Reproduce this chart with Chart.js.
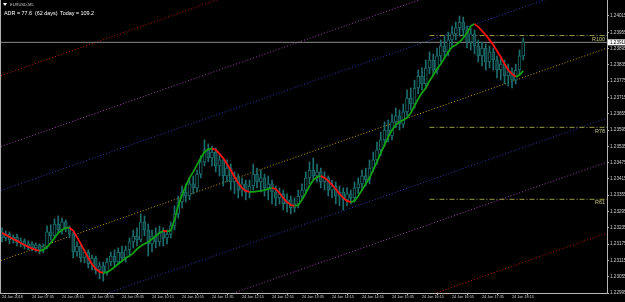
<!DOCTYPE html>
<html>
<head>
<meta charset="utf-8">
<script src="https://cdn.jsdelivr.net/npm/chart.js@4.4.1/dist/chart.umd.min.js"></script>
<style>
html, body { margin: 0; padding: 0; background: #000; overflow: hidden; }
canvas { display: block; }
</style>
</head>
<body>
<canvas id="chart" width="625" height="302"></canvas>
<script>
// EURUSD M5 candles (bar index 0 = first bar on screen)
const opens = [1.23220,1.23198,1.23212,1.23190,1.23201,1.23179,1.23187,1.23168,1.23176,1.23161,
  1.23172,1.23154,1.23165,1.23220,1.23205,1.23249,1.23227,1.23257,1.23235,1.23212,
  1.23146,1.23168,1.23124,1.23146,1.23102,1.23124,1.23080,1.23095,1.23073,1.23109,
  1.23131,1.23109,1.23146,1.23124,1.23154,1.23183,1.23205,1.23190,1.23257,1.23227,
  1.23176,1.23205,1.23183,1.23220,1.23198,1.23212,1.23242,1.23286,1.23330,1.23367,
  1.23352,1.23397,1.23382,1.23433,1.23478,1.23522,1.23492,1.23514,1.23463,1.23485,
  1.23426,1.23455,1.23404,1.23419,1.23374,1.23397,1.23367,1.23389,1.23433,1.23404,
  1.23419,1.23382,1.23397,1.23367,1.23345,1.23360,1.23323,1.23338,1.23308,1.23323,
  1.23352,1.23374,1.23419,1.23448,1.23426,1.23441,1.23404,1.23419,1.23374,1.23389,
  1.23352,1.23367,1.23338,1.23360,1.23345,1.23382,1.23397,1.23426,1.23411,1.23455,
  1.23485,1.23522,1.23559,1.23595,1.23573,1.23625,1.23647,1.23617,1.23662,1.23713,
  1.23691,1.23750,1.23794,1.23765,1.23824,1.23853,1.23816,1.23868,1.23905,1.23883,
  1.23927,1.23949,1.23971,1.23993,1.23964,1.23919,1.23949,1.23905,1.23868,1.23897,
  1.23846,1.23883,1.23853,1.23816,1.23838,1.23794,1.23809,1.23779,1.23816,1.23868];
const highs = [1.23235,1.23224,1.23220,1.23209,1.23212,1.23198,1.23194,1.23187,1.23183,1.23179,
  1.23176,1.23176,1.23242,1.23246,1.23268,1.23279,1.23271,1.23264,1.23242,1.23220,
  1.23183,1.23176,1.23157,1.23154,1.23135,1.23131,1.23109,1.23109,1.23124,1.23146,
  1.23154,1.23161,1.23168,1.23168,1.23198,1.23227,1.23235,1.23286,1.23279,1.23249,
  1.23227,1.23235,1.23242,1.23235,1.23227,1.23257,1.23316,1.23352,1.23389,1.23397,
  1.23419,1.23426,1.23448,1.23500,1.23559,1.23544,1.23536,1.23529,1.23507,1.23492,
  1.23485,1.23470,1.23441,1.23433,1.23419,1.23411,1.23411,1.23470,1.23455,1.23448,
  1.23433,1.23426,1.23411,1.23389,1.23382,1.23374,1.23360,1.23352,1.23345,1.23374,
  1.23397,1.23441,1.23478,1.23492,1.23470,1.23455,1.23441,1.23426,1.23411,1.23404,
  1.23389,1.23382,1.23382,1.23374,1.23404,1.23419,1.23448,1.23455,1.23485,1.23514,
  1.23551,1.23588,1.23625,1.23632,1.23654,1.23676,1.23669,1.23691,1.23743,1.23750,
  1.23779,1.23816,1.23824,1.23853,1.23883,1.23875,1.23897,1.23927,1.23941,1.23956,
  1.23978,1.23993,1.24015,1.24011,1.23978,1.23971,1.23964,1.23927,1.23919,1.23912,
  1.23905,1.23897,1.23868,1.23860,1.23853,1.23838,1.23824,1.23838,1.23890,1.23934];
const lows = [1.23183,1.23187,1.23176,1.23179,1.23168,1.23165,1.23157,1.23154,1.23150,1.23146,
  1.23139,1.23143,1.23157,1.23190,1.23198,1.23216,1.23212,1.23220,1.23198,1.23124,
  1.23131,1.23109,1.23106,1.23087,1.23080,1.23065,1.23047,1.23039,1.23061,1.23095,
  1.23095,1.23102,1.23109,1.23109,1.23135,1.23161,1.23168,1.23183,1.23205,1.23131,
  1.23146,1.23161,1.23168,1.23168,1.23176,1.23198,1.23227,1.23271,1.23308,1.23330,
  1.23338,1.23360,1.23367,1.23419,1.23463,1.23478,1.23463,1.23441,1.23426,1.23389,
  1.23404,1.23374,1.23360,1.23345,1.23352,1.23338,1.23345,1.23374,1.23382,1.23367,
  1.23352,1.23338,1.23323,1.23316,1.23323,1.23301,1.23293,1.23286,1.23293,1.23308,
  1.23338,1.23360,1.23397,1.23411,1.23404,1.23382,1.23374,1.23352,1.23345,1.23323,
  1.23316,1.23301,1.23316,1.23323,1.23330,1.23360,1.23374,1.23389,1.23397,1.23441,
  1.23470,1.23500,1.23536,1.23551,1.23559,1.23603,1.23595,1.23603,1.23647,1.23669,
  1.23676,1.23728,1.23743,1.23750,1.23802,1.23794,1.23802,1.23846,1.23860,1.23868,
  1.23905,1.23927,1.23941,1.23941,1.23897,1.23890,1.23875,1.23846,1.23831,1.23816,
  1.23824,1.23816,1.23787,1.23779,1.23765,1.23757,1.23750,1.23765,1.23802,1.23853];
const closes = [1.23198,1.23212,1.23190,1.23201,1.23179,1.23187,1.23168,1.23176,1.23161,1.23172,
  1.23154,1.23165,1.23220,1.23205,1.23249,1.23227,1.23257,1.23235,1.23212,1.23146,
  1.23168,1.23124,1.23146,1.23102,1.23124,1.23080,1.23095,1.23073,1.23109,1.23131,
  1.23109,1.23146,1.23124,1.23154,1.23183,1.23205,1.23190,1.23257,1.23227,1.23176,
  1.23205,1.23183,1.23220,1.23198,1.23212,1.23242,1.23286,1.23330,1.23367,1.23352,
  1.23397,1.23382,1.23433,1.23478,1.23522,1.23492,1.23514,1.23463,1.23485,1.23426,
  1.23455,1.23404,1.23419,1.23374,1.23397,1.23367,1.23389,1.23433,1.23404,1.23419,
  1.23382,1.23397,1.23367,1.23345,1.23360,1.23323,1.23338,1.23308,1.23323,1.23352,
  1.23374,1.23419,1.23448,1.23426,1.23441,1.23404,1.23419,1.23374,1.23389,1.23352,
  1.23367,1.23338,1.23360,1.23345,1.23382,1.23397,1.23426,1.23411,1.23455,1.23485,
  1.23522,1.23559,1.23595,1.23573,1.23625,1.23647,1.23617,1.23662,1.23713,1.23691,
  1.23750,1.23794,1.23765,1.23824,1.23853,1.23816,1.23868,1.23905,1.23883,1.23927,
  1.23949,1.23971,1.23993,1.23964,1.23919,1.23949,1.23905,1.23868,1.23897,1.23846,
  1.23883,1.23853,1.23816,1.23838,1.23794,1.23809,1.23779,1.23816,1.23868,1.23919];
// smoothed trend line (green rising / red falling)
const smooth = [1.23216,1.23209,1.23201,1.23194,1.23187,1.23179,1.23172,1.23165,1.23159,1.23154,
  1.23150,1.23154,1.23165,1.23179,1.23198,1.23216,1.23227,1.23235,1.23235,1.23224,
  1.23201,1.23176,1.23150,1.23124,1.23102,1.23084,1.23073,1.23069,1.23071,1.23080,
  1.23091,1.23102,1.23113,1.23124,1.23131,1.23143,1.23157,1.23168,1.23176,1.23183,
  1.23194,1.23205,1.23216,1.23224,1.23222,1.23224,1.23264,1.23316,1.23356,1.23389,
  1.23419,1.23441,1.23467,1.23492,1.23514,1.23525,1.23527,1.23522,1.23507,1.23492,
  1.23470,1.23448,1.23422,1.23400,1.23382,1.23371,1.23367,1.23367,1.23369,1.23371,
  1.23374,1.23378,1.23382,1.23378,1.23363,1.23345,1.23330,1.23319,1.23316,1.23319,
  1.23338,1.23363,1.23389,1.23411,1.23422,1.23426,1.23419,1.23408,1.23393,1.23378,
  1.23360,1.23345,1.23334,1.23330,1.23334,1.23352,1.23374,1.23397,1.23419,1.23448,
  1.23478,1.23511,1.23540,1.23570,1.23595,1.23614,1.23625,1.23632,1.23640,1.23658,
  1.23684,1.23710,1.23732,1.23750,1.23776,1.23798,1.23820,1.23838,1.23860,1.23883,
  1.23901,1.23908,1.23919,1.23934,1.23953,1.23978,1.23986,1.23975,1.23960,1.23945,
  1.23927,1.23908,1.23886,1.23864,1.23838,1.23816,1.23802,1.23791,1.23798,1.23813];

// time axis labels, every 8 bars
const timeTickBars = [0, 8, 16, 24, 32, 40, 48, 56, 64, 72, 80, 88, 96, 104, 112, 120, 128, 136];
const timeTickLabels = ['24 Jan 2018', '24 Jan 07:35', '24 Jan 08:15', '24 Jan 08:55', '24 Jan 09:35',
  '24 Jan 10:15', '24 Jan 10:55', '24 Jan 11:35', '24 Jan 12:15', '24 Jan 12:55', '24 Jan 13:35',
  '24 Jan 14:15', '24 Jan 14:55', '24 Jan 15:35', '24 Jan 16:15', '24 Jan 16:55', '24 Jan 17:35', '24 Jan 18:15'];
// price axis labels
const priceTicks = [1.24015, 1.23955, 1.23895, 1.23835, 1.23775, 1.23715, 1.23655, 1.23595, 1.23535,
  1.23475, 1.23415, 1.23355, 1.23295, 1.23235, 1.23175, 1.23115, 1.23055, 1.22995];

// regression channel: two end bars, start / end price for each line
const channelBars = [-1, 162];
const channelUpperRed = [1.23792, 1.24581];
const channelUpperViolet = [1.23531, 1.24320];
const channelUpperBlue = [1.23369, 1.24158];
const channelMid = [1.23111, 1.23900];
const channelLowerBlue = [1.22853, 1.23642];
const channelLowerViolet = [1.22691, 1.23480];
const channelLowerRed = [1.22430, 1.23219];

// ADR levels
const levelNames = ['R100', 'R78', 'R61'];
const levelPrices = [1.23943, 1.23605, 1.23340];
const levelStartBar = 114;
const bidPrice = 1.23918;

const TEAL = '#1d6e6e';
const TEAL_FILL = '#123f3f';

function channel(vals, color) {
  return {
    type: 'line',
    data: channelBars.map((b, i) => ({x: b, y: vals[i]})),
    borderColor: color, borderWidth: 1, borderDash: [1, 2],
    pointRadius: 0, order: 9
  };
}

const datasets = [
  channel(channelUpperRed, '#c01010'),
  channel(channelUpperViolet, '#a040b0'),
  channel(channelUpperBlue, '#2a3cb0'),
  channel(channelMid, '#c8a000'),
  channel(channelLowerBlue, '#2a3cb0'),
  channel(channelLowerViolet, '#a040b0'),
  channel(channelLowerRed, '#c01010'),
  {
    type: 'line',
    data: [{x: -1, y: bidPrice}, {x: 162, y: bidPrice}],
    borderColor: '#8c8c8c', borderWidth: 1, pointRadius: 0, order: 8
  },
  ...levelPrices.map(p => ({
    type: 'line',
    data: [{x: levelStartBar, y: p}, {x: 162, y: p}],
    borderColor: '#9c9c44', borderWidth: 1, borderDash: [5, 2, 1, 2],
    pointRadius: 0, order: 7
  })),
  {
    type: 'bar',
    data: highs.map((h, i) => ({x: i, y: [lows[i], h]})),
    backgroundColor: TEAL, barThickness: 1, grouped: false, order: 3
  },
  {
    type: 'bar',
    data: opens.map((o, i) => ({x: i, y: [o, closes[i]]})),
    backgroundColor: opens.map((o, i) => closes[i] >= o ? '#000000' : TEAL_FILL),
    borderColor: TEAL, borderWidth: 1, borderSkipped: false,
    barThickness: 3, grouped: false, order: 2
  },
  {
    type: 'line',
    data: smooth.map((v, i) => ({x: i, y: v})),
    borderWidth: 1.8, pointRadius: 0, tension: 0, order: 1,
    borderColor: '#10a010',
    segment: {
      borderColor: c => c.p1.parsed.y < c.p0.parsed.y ? '#ff1010' : '#10a010'
    }
  }
];

const overlay = {
  id: 'overlay',
  beforeDraw(chart) {
    const ctx = chart.ctx;
    ctx.save();
    ctx.fillStyle = '#000';
    ctx.fillRect(0, 0, chart.width, chart.height);
    ctx.restore();
  },
  afterDraw(chart) {
    const ctx = chart.ctx;
    const area = chart.chartArea;
    const ys = chart.scales.y;
    ctx.save();
    // left frame line
    ctx.strokeStyle = '#b0b0b0';
    ctx.lineWidth = 1;
    ctx.beginPath();
    ctx.moveTo(0.5, 0);
    ctx.lineTo(0.5, area.bottom);
    ctx.stroke();
    // header
    ctx.fillStyle = '#ffffff';
    ctx.beginPath();
    ctx.moveTo(3, 3); ctx.lineTo(7, 3); ctx.lineTo(5, 6); ctx.closePath();
    ctx.fill();
    ctx.fillStyle = '#c8c8c8';
    ctx.font = '4px "Liberation Sans"';
    ctx.textBaseline = 'middle';
    ctx.fillText('EURUSD,M5', 10, 4.5);
    ctx.fillStyle = '#ffffff';
    ctx.font = '5.4px "Liberation Sans"';
    ctx.fillText('ADR = 77.6  (62 days)', 4, 14);
    ctx.fillText('Today = 109.2', 60, 14);
    // level labels
    ctx.fillStyle = '#c8c87a';
    ctx.font = '5.4px "Liberation Sans"';
    ctx.textAlign = 'right';
    ctx.textBaseline = 'top';
    levelPrices.forEach((p, i) => {
      ctx.fillText(levelNames[i], area.right - 2, ys.getPixelForValue(p) + 1);
    });
    // bid price box
    const by = ys.getPixelForValue(bidPrice);
    ctx.fillStyle = '#ffffff';
    ctx.fillRect(area.right + 1, by - 3, chart.width - area.right - 1, 6);
    ctx.fillStyle = '#000000';
    ctx.textAlign = 'left';
    ctx.textBaseline = 'middle';
    ctx.font = '4.6px "Liberation Sans"';
    ctx.fillText(bidPrice.toFixed(5), area.right + 3, by);
    ctx.restore();
  }
};

new Chart(document.getElementById('chart'), {
  type: 'bar',
  data: {datasets: datasets},
  options: {
    responsive: false,
    animation: false,
    events: [],
    layout: {padding: 0},
    plugins: {legend: {display: false}, tooltip: {enabled: false}},
    scales: {
      x: {
        type: 'linear', position: 'bottom', offset: false,
        min: -0.533, max: 161.33,
        grid: {display: true, drawOnChartArea: false, drawTicks: true, tickLength: 2, color: '#b8b8b8'},
        border: {display: true, color: '#b8b8b8'},
        afterBuildTicks: s => { s.ticks = timeTickBars.map(v => ({value: v})); },
        afterFit: s => { s.height = 9; s.paddingLeft = 0; s.paddingRight = 0; },
        ticks: {
          autoSkip: false, maxRotation: 0, align: 'start', padding: 0,
          color: '#d0d0d0', font: {family: 'Liberation Sans', size: 3.8},
          callback: v => timeTickLabels[timeTickBars.indexOf(v)]
        }
      },
      y: {
        type: 'linear', position: 'right', beginAtZero: false,
        min: 1.22995, max: 1.240739,
        grid: {display: true, drawOnChartArea: false, drawTicks: true, tickLength: 2, color: '#b8b8b8'},
        border: {display: true, color: '#b8b8b8'},
        afterBuildTicks: s => { s.ticks = priceTicks.map(v => ({value: v})); },
        afterFit: s => { s.width = 18; s.paddingTop = 0; s.paddingBottom = 0; },
        ticks: {
          autoSkip: false, padding: 1,
          color: '#d0d0d0', font: {family: 'Liberation Sans', size: 4.6},
          callback: v => v.toFixed(5)
        }
      }
    }
  },
  plugins: [overlay]
});
</script>
</body>
</html>
